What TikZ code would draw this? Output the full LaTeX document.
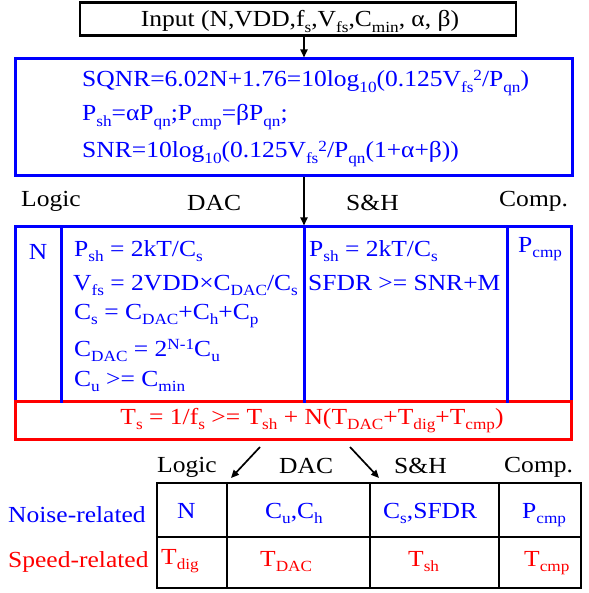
\documentclass[tikz,border=0pt]{standalone}
\usepackage{fontspec}
\setmainfont{Liberation Serif}[FakeStretch=1.11]
\usetikzlibrary{arrows.meta}
\definecolor{pblue}{RGB}{0,0,255}
\definecolor{pred}{RGB}{255,0,0}
\newcommand\sbs[1]{\raisebox{-0.22em}{\fontsize{15.5}{15.5}\selectfont #1}}
\newcommand\sps[1]{\raisebox{0.3em}{\fontsize{15.5}{15.5}\selectfont #1}}
\tikzset{
  txt/.style={inner sep=0pt, font=\fontsize{23}{27}\selectfont},
  bl/.style={txt, text=pblue},
  rd/.style={txt, text=pred},
  bx/.style={draw, inner sep=0pt, rectangle},
  arr/.style={line width=1.7pt, -{Triangle[length=8pt,width=7pt]}},
}
\begin{document}
\begin{tikzpicture}[x=1pt,y=-1pt]
\useasboundingbox (0,0) rectangle (588,593);
% boxes
\node[bx, line width=2.5pt, minimum width=436pt, minimum height=33pt] (inp) at (298,19) {};
\node[bx, draw=pblue, line width=3pt, minimum width=557pt, minimum height=117pt] (eq) at (293.5,117.5) {};
\node[bx, draw=pblue, line width=3pt, minimum width=556pt, minimum height=174pt] (grid) at (293,314) {};
\node[bx, draw=pred, line width=3pt, minimum width=556pt, minimum height=38pt] (ts) at (293,420) {};
\node[bx, line width=2.5pt, minimum width=424pt, minimum height=105pt] (tab) at (369,535.5) {};
% dividers
\coordinate (g1) at (61,0);
\coordinate (g2) at (304,0);
\coordinate (g3) at (507,0);
\foreach \c in {g1,g2,g3}
  \draw[pblue, line width=3pt] (grid.north -| \c) -- (grid.south -| \c);
\coordinate (t1) at (227,0);
\coordinate (t2) at (370,0);
\coordinate (t3) at (499,0);
\coordinate (tm) at (0,537);
\foreach \c in {t1,t2,t3}
  \draw[line width=2.5pt] (tab.north -| \c) -- (tab.south -| \c);
\draw[line width=2.5pt] (tab.west |- tm) -- (tab.east |- tm);
% arrows
\draw[arr] (inp.south -| g2) -- (eq.north -| g2);
\draw[arr] (eq.south -| g2) -- (grid.north -| g2);
\coordinate (a1s) at (260,447);
\coordinate (a1e) at (231,478);
\coordinate (a2s) at (350,447);
\coordinate (a2e) at (379,478);
\draw[arr] (a1s) -- (a1e);
\draw[arr] (a2s) -- (a2e);
% texts
\node[txt, anchor=base] (tin) at (300,27) {Input (N,VDD,f\sbs{s},V\sbs{fs},C\sbs{min}, α, β)};
\node[bl, anchor=base west] (e1) at (82,87) {SQNR=6.02N+1.76=10log\sbs{10}(0.125V\sbs{fs}\sps{2}/P\sbs{qn})};
\node[bl, anchor=base west] (e2) at (82,121) {P\sbs{sh}=αP\sbs{qn};P\sbs{cmp}=βP\sbs{qn};};
\node[bl, anchor=base west] (e3) at (82,158) {SNR=10log\sbs{10}(0.125V\sbs{fs}\sps{2}/P\sbs{qn}(1+α+β))};
\node[txt, anchor=base west] (l1) at (21,207) {Logic};
\node[txt, anchor=base west] (l2) at (187,211) {DAC};
\node[txt, anchor=base west] (l3) at (346,211) {S\&H};
\node[txt, anchor=base west] (l4) at (499,207) {Comp.};
\node[bl, anchor=base] (cN) at (38,259) {N};
\node[bl, anchor=base west] (d1) at (74,256) {P\sbs{sh} = 2kT/C\sbs{s}};
\node[bl, anchor=base west] (d2) at (73,290) {V\sbs{fs} = 2VDD×C\sbs{DAC}/C\sbs{s}};
\node[bl, anchor=base west] (d3) at (74,319) {C\sbs{s} = C\sbs{DAC}+C\sbs{h}+C\sbs{p}};
\node[bl, anchor=base west] (d4) at (74,356) {C\sbs{DAC} = 2\sps{N-1}C\sbs{u}};
\node[bl, anchor=base west] (d5) at (74,386) {C\sbs{u} >= C\sbs{min}};
\node[bl, anchor=base west] (s1) at (309,256) {P\sbs{sh} = 2kT/C\sbs{s}};
\node[bl, anchor=base west] (s2) at (308,290) {SFDR >= SNR+M};
\node[bl, anchor=base west] (c1) at (518,252) {P\sbs{cmp}};
\node[rd, anchor=base] (tseq) at (312,424) {T\sbs{s} = 1/f\sbs{s} >= T\sbs{sh} + N(T\sbs{DAC}+T\sbs{dig}+T\sbs{cmp})};
\node[txt, anchor=base west] (b1) at (157,472) {Logic};
\node[txt, anchor=base west] (b2) at (279,473) {DAC};
\node[txt, anchor=base west] (b3) at (394,473) {S\&H};
\node[txt, anchor=base west] (b4) at (504,472) {Comp.};
\node[bl, anchor=base west] (nr) at (8,522) {Noise-related};
\node[rd, anchor=base west] (sr) at (8,567) {Speed-related};
\node[bl, anchor=base west] (n1) at (177,518) {N};
\node[bl, anchor=base west] (n2) at (265,518) {C\sbs{u},C\sbs{h}};
\node[bl, anchor=base west] (n3) at (383,518) {C\sbs{s},SFDR};
\node[bl, anchor=base west] (n4) at (522,518) {P\sbs{cmp}};
\node[rd, anchor=base west] (r1) at (161,564) {T\sbs{dig}};
\node[rd, anchor=base west] (r2) at (260,566) {T\sbs{DAC}};
\node[rd, anchor=base west] (r3) at (408,566) {T\sbs{sh}};
\node[rd, anchor=base west] (r4) at (524,566) {T\sbs{cmp}};
\end{tikzpicture}
\end{document}
